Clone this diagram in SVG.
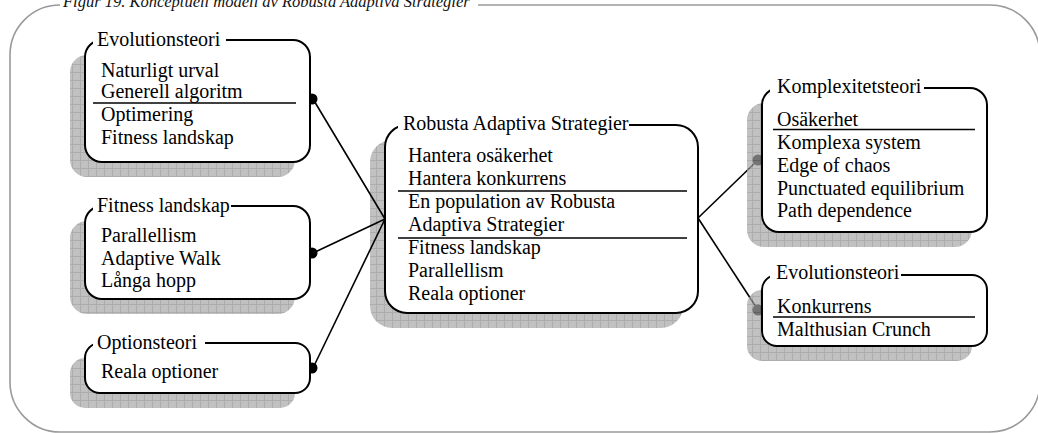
<svg xmlns="http://www.w3.org/2000/svg" width="1038" height="433" viewBox="0 0 1038 433">
<defs>
<pattern id="grid" width="8" height="8" patternUnits="userSpaceOnUse">
<rect width="8" height="8" fill="#a6a6a6"/>
<path d="M0 0.5H8M0.5 0V8" stroke="#8a8a8a" stroke-width="1" fill="none"/>
</pattern>
<style>
.frame{fill:none;stroke:#9a9a9a;stroke-width:1.6}
.cap{font-family:"Liberation Serif","Times New Roman",serif;font-style:italic;font-size:16.5px;fill:#111}
.shadow{fill:url(#grid);opacity:0.7}
.box{fill:#fff;stroke:#000;stroke-width:2}
.mask{fill:#fff}
.t{font-family:"Liberation Serif","Times New Roman",serif;font-size:20px;fill:#000}
.sep{stroke:#000;stroke-width:1.3}
.con{stroke:#000;stroke-width:1.6;fill:none}
.dot{fill:#000}
</style>
</defs>
<rect width="1038" height="433" fill="#fff"/>
<g id="frame">
<rect class="frame" x="10" y="5" width="1030" height="427" rx="50" ry="50"/>
<rect class="mask" x="60" y="0" width="418" height="11"/>
<text class="cap" x="63" y="7">Figur 19. Konceptuell modell av Robusta Adaptiva Strategier</text>
</g>
<g id="node-robusta">
<rect class="shadow" x="370" y="140" width="313" height="188" rx="22"/>
<rect class="box" x="385" y="125" width="313" height="188" rx="22"/>
<rect class="mask" x="398" y="118" width="231" height="12"/>
<text class="t" x="403" y="129.5">Robusta Adaptiva Strategier</text>
<text class="t" x="408" y="162">Hantera osäkerhet</text>
<text class="t" x="408" y="185">Hantera konkurrens</text>
<line class="sep" x1="398" y1="191" x2="687" y2="191"/>
<text class="t" x="408" y="208">En population av Robusta</text>
<text class="t" x="408" y="231">Adaptiva Strategier</text>
<line class="sep" x1="398" y1="238" x2="687" y2="238"/>
<text class="t" x="408" y="254">Fitness landskap</text>
<text class="t" x="408" y="277">Parallellism</text>
<text class="t" x="408" y="300">Reala optioner</text>
</g>
<g id="connectors">
<line class="con" x1="313" y1="99" x2="385" y2="219"/>
<line class="con" x1="313" y1="253" x2="385" y2="219"/>
<line class="con" x1="313" y1="368" x2="385" y2="219"/>
<line class="con" x1="698" y1="218" x2="758" y2="160"/>
<line class="con" x1="698" y1="218" x2="758" y2="310"/>
<circle class="dot" cx="312" cy="99" r="5.5"/>
<circle class="dot" cx="312" cy="253" r="5.5"/>
<circle class="dot" cx="312" cy="368" r="5.5"/>
<circle class="dot" cx="758" cy="160" r="5.5"/>
<circle class="dot" cx="758" cy="310" r="5.5"/>
</g>
<g id="node-evolution-left">
<rect class="shadow" x="70" y="55" width="225" height="122" rx="17"/>
<rect class="box" x="85" y="40" width="225" height="122" rx="17"/>
<rect class="mask" x="93" y="34" width="133" height="10"/>
<text class="t" x="97" y="46">Evolutionsteori</text>
<text class="t" x="101" y="77">Naturligt urval</text>
<text class="t" x="101" y="98">Generell algoritm</text>
<line class="sep" x1="93" y1="103" x2="296" y2="103"/>
<text class="t" x="101" y="121">Optimering</text>
<text class="t" x="101" y="143.5">Fitness landskap</text>
</g>
<g id="node-fitness-left">
<rect class="shadow" x="70" y="221" width="225" height="93" rx="17"/>
<rect class="box" x="85" y="206" width="225" height="93" rx="17"/>
<rect class="mask" x="93" y="200" width="138" height="10"/>
<text class="t" x="97" y="212">Fitness landskap</text>
<text class="t" x="101" y="242">Parallellism</text>
<text class="t" x="101" y="265">Adaptive Walk</text>
<text class="t" x="101" y="287">Långa hopp</text>
</g>
<g id="node-options">
<rect class="shadow" x="70" y="358" width="225" height="50" rx="15"/>
<rect class="box" x="85" y="343" width="225" height="50" rx="15"/>
<rect class="mask" x="93" y="337" width="112" height="10"/>
<text class="t" x="97" y="349">Optionsteori</text>
<text class="t" x="101" y="378">Reala optioner</text>
</g>
<g id="node-complexity">
<rect class="shadow" x="747" y="103" width="225" height="144" rx="17"/>
<rect class="box" x="762" y="88" width="225" height="144" rx="17"/>
<rect class="mask" x="770" y="82" width="154" height="10"/>
<text class="t" x="777" y="93">Komplexitetsteori</text>
<text class="t" x="777" y="125.5">Osäkerhet</text>
<line class="sep" x1="773" y1="129.5" x2="975" y2="129.5"/>
<text class="t" x="777" y="149">Komplexa system</text>
<text class="t" x="777" y="172">Edge of chaos</text>
<text class="t" x="777" y="195">Punctuated equilibrium</text>
<text class="t" x="777" y="217">Path dependence</text>
</g>
<g id="node-evolution-right">
<rect class="shadow" x="747" y="290" width="225" height="71" rx="15"/>
<rect class="box" x="762" y="275" width="225" height="71" rx="15"/>
<rect class="mask" x="770" y="269" width="131" height="10"/>
<text class="t" x="776" y="279">Evolutionsteori</text>
<text class="t" x="777" y="313">Konkurrens</text>
<line class="sep" x1="773" y1="317" x2="975" y2="317"/>
<text class="t" x="777" y="336">Malthusian Crunch</text>
</g>
</svg>
